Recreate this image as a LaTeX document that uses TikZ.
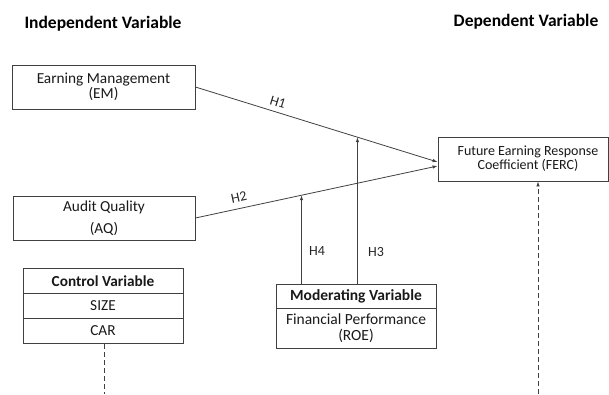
\documentclass[tikz,border=0pt]{standalone}
\usepackage{fontspec}
\setmainfont{Carlito}
\usetikzlibrary{calc}
\usetikzlibrary{arrows.meta}

\begin{document}
\begin{tikzpicture}[x=1pt, y=-1pt,
    varbox/.style={draw=black!75, line width=0.8pt, align=center, inner sep=0pt, text=black!90},
    link/.style={draw=black!75, line width=0.8pt},
    arr/.style={link, -{Latex[length=5pt,width=3.5pt]}},
    hlabel/.style={text=black!85, inner sep=1pt, font=\fontsize{14}{14}\selectfont}]
\useasboundingbox (0,0) rectangle (609,394);
% headings
\node[font=\fontsize{17.5}{17.5}\selectfont\bfseries, text=black] (indep) at (103,24) {Independent Variable};
\node[font=\fontsize{17.5}{17.5}\selectfont\bfseries, text=black] (dep) at (526,22) {Dependent Variable};
% independent variables
\node[varbox, minimum width=183pt, minimum height=44pt, font=\fontsize{15.3}{13}\selectfont] (em) at (103.5,87) {Earning Management\\(EM)};
\node[varbox, minimum width=182pt, minimum height=44pt, font=\fontsize{15.3}{18}\selectfont] (aq) at (104,218) {Audit Quality\\[4pt](AQ)};
% dependent variable
\node[varbox, minimum width=170pt, minimum height=44pt, font=\fontsize{14}{14}\selectfont] (ferc) at (523,159) {\hspace*{10pt}Future Earning Response\\\hspace*{10pt}Coefficient (FERC)};
% control variable
\node[varbox, minimum width=160pt, minimum height=25pt, font=\fontsize{15.3}{15}\selectfont\bfseries] (ctlhead) at (103,281) {Control Variable};
\node[varbox, minimum width=160pt, minimum height=25pt, font=\fontsize{15.3}{15}\selectfont] (ctlsize) at (103,306) {SIZE};
\node[varbox, minimum width=160pt, minimum height=25pt, font=\fontsize{15.3}{15}\selectfont] (ctlcar) at (103,331) {CAR};
% moderating variable
\node[varbox, minimum width=160pt, minimum height=24pt, font=\fontsize{15.5}{15}\selectfont\bfseries] (modhead) at (356,296) {Moderating Variable};
\node[varbox, minimum width=160pt, minimum height=40pt, font=\fontsize{15.5}{16}\selectfont] (modbody) at (356,328) {Financial Performance\\(ROE)};
% hypotheses
\draw[arr] (em.east) -- coordinate[pos=0.669] (h3end) ($(ferc.west)+(0,3)$);
\draw[arr] (aq.east) -- coordinate[pos=0.438] (h4end) ($(ferc.west)+(0,7)$);
\draw[arr] (modhead.north -| h3end) -- (h3end);
\draw[arr] (modhead.north -| h4end) -- (h4end);
\node[hlabel, rotate=-17] (h1) at (278,102) {H1};
\node[hlabel, rotate=12] (h2) at (239,197) {H2};
\node[hlabel] (h3) at (376,252) {H3};
\node[hlabel] (h4) at (317,251) {H4};
% control links
\coordinate (ctlfoot) at (104,394);
\coordinate (fercfoot) at (538,394);
\draw[link, dash pattern=on 5pt off 3pt] (ctlcar.south -| ctlfoot) -- (ctlfoot);
\draw[arr, dash pattern=on 5pt off 3pt] (fercfoot) -- (fercfoot |- ferc.south);
\end{tikzpicture}
\end{document}
